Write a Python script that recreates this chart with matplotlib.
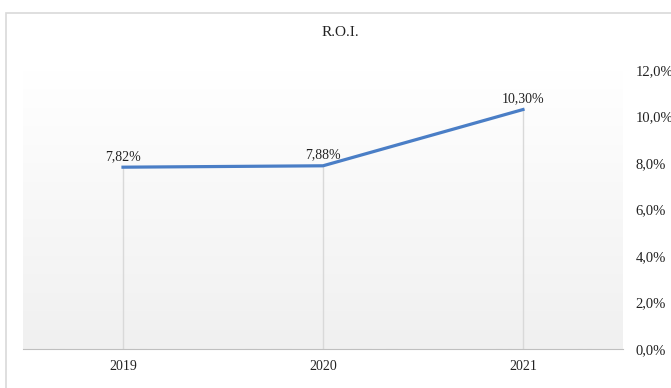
import numpy as np
import matplotlib.pyplot as plt
from matplotlib.patches import Rectangle

# datos
anios = ["2019", "2020", "2021"]
roi = [7.82, 7.88, 10.30]
etiquetas = ["7,82%", "7,88%", "10,30%"]
ticks_y = [0, 2, 4, 6, 8, 10, 12]

plt.rcParams["font.family"] = ["Liberation Serif", "DejaVu Serif"]

fig = plt.figure(figsize=(6.71, 3.88), dpi=100)

# marco del grafico
fig.patches.append(Rectangle((6 / 671, -0.1), 1.0, 1 - 13 / 388 + 0.1,
                             transform=fig.transFigure, fill=False,
                             edgecolor="#d9d9d9", linewidth=1.2))

ax = fig.add_axes([23 / 671, 1 - 349 / 388, 600 / 671, 279 / 388])

x = np.arange(len(anios))

# fondo degradado
grad = np.linspace(0, 1, 256).reshape(-1, 1)
ax.imshow(grad, extent=(-0.5, 2.5, 0, 12), aspect="auto",
          cmap=plt.matplotlib.colors.LinearSegmentedColormap.from_list(
              "g", ["#ffffff", "#f0f0f0"]),
          origin="upper", zorder=0)

# lineas de caida
ax.vlines(x, 0, roi, color="#d9d9d9", linewidth=1, zorder=1)
ax.plot(x, roi, color="#4a7ec6", linewidth=2.3, zorder=3)

for xi, v, t in zip(x, roi, etiquetas):
    ax.annotate(t, (xi, v), xytext=(0, 3), textcoords="offset points",
                ha="center", va="bottom", fontsize=10, color="#222222")

ax.set_xlim(-0.5, 2.5)
ax.set_ylim(0, 12)
ax.set_xticks(x)
ax.set_xticklabels(anios, fontsize=10)
ax.yaxis.tick_right()
ax.set_yticks(ticks_y)
ax.set_yticklabels([f"{t},0%" for t in ticks_y], fontsize=10.5)
ax.tick_params(length=0, colors="#222222")
ax.tick_params(axis="x", pad=8)
ax.tick_params(axis="y", pad=9)

for s in ["top", "right", "left"]:
    ax.spines[s].set_visible(False)
ax.spines["bottom"].set_color("#bfbfbf")

fig.text(340 / 671, 1 - 33 / 388, "R.O.I.", ha="center", va="center",
         fontsize=11, color="#222222")

fig.savefig("out.png", dpi=100)
